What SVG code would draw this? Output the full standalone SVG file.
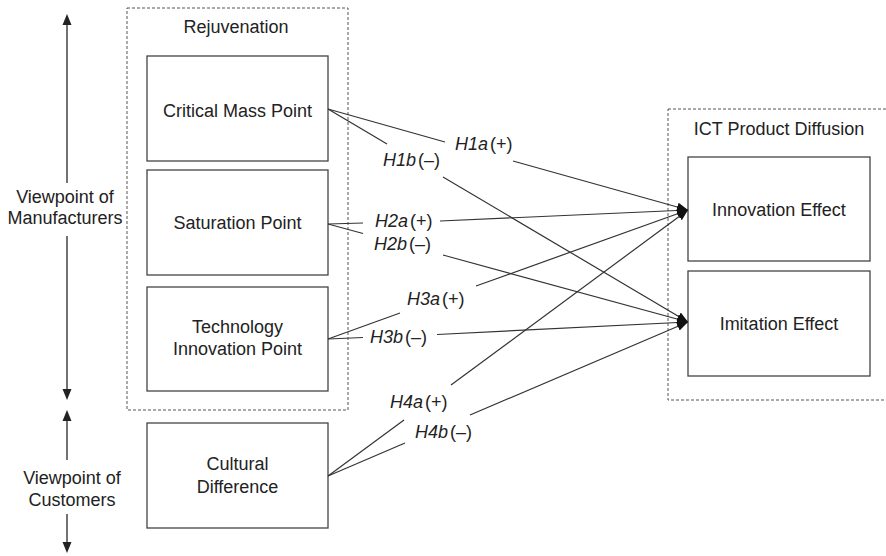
<svg xmlns="http://www.w3.org/2000/svg" width="886" height="556" viewBox="0 0 886 556">
<defs>
<style>
.t{font-family:"Liberation Sans",Arial,sans-serif;font-size:18px;fill:#222;text-anchor:middle}
.h{font-family:"Liberation Sans",Arial,sans-serif;font-size:18px;fill:#222}
.h .i{font-style:italic}
.box{fill:#fff;stroke:#444;stroke-width:1.3}
.grp{fill:none;stroke:#555;stroke-width:1;stroke-dasharray:3,2}
.ln{stroke:#333;stroke-width:1.2;fill:none}
.ax{stroke:#444;stroke-width:1.5;fill:none}
</style>
<marker id="ah" markerUnits="userSpaceOnUse" markerWidth="12" markerHeight="12" viewBox="0 0 12 12" refX="11" refY="6" orient="auto">
<path d="M0,1.5 L11,6 L0,10.5 Z" fill="#111"/>
</marker>
<marker id="ax" markerUnits="userSpaceOnUse" markerWidth="10" markerHeight="12" viewBox="0 0 10 12" refX="5" refY="11" orient="auto-start-reverse">
</marker>
</defs>
<rect width="886" height="556" fill="#fff"/>

<g id="axes">
<line class="ax" x1="67" y1="183" x2="67" y2="24"/>
<path d="M67,14 L62.5,25 L71.5,25 Z" fill="#222"/>
<line class="ax" x1="67" y1="236" x2="67" y2="390"/>
<path d="M67,400 L62.5,389 L71.5,389 Z" fill="#222"/>
<line class="ax" x1="67" y1="460" x2="67" y2="420"/>
<path d="M67,410 L62.5,421 L71.5,421 Z" fill="#222"/>
<line class="ax" x1="67" y1="514" x2="67" y2="543"/>
<path d="M67,553 L62.5,542 L71.5,542 Z" fill="#222"/>
<text class="t" x="65" y="203">Viewpoint of</text>
<text class="t" x="65" y="224">Manufacturers</text>
<text class="t" x="72" y="484">Viewpoint of</text>
<text class="t" x="72" y="506">Customers</text>
</g>

<g id="rejuvenation">
<rect class="grp" x="127" y="8" width="221" height="402"/>
<text class="t" x="236" y="33">Rejuvenation</text>
</g>

<g id="critical-mass">
<rect class="box" x="147" y="56" width="181" height="105"/>
<text class="t" x="237.5" y="117">Critical Mass Point</text>
</g>

<g id="saturation">
<rect class="box" x="147" y="170" width="181" height="105"/>
<text class="t" x="237.5" y="229">Saturation Point</text>
</g>

<g id="technology">
<rect class="box" x="147" y="287" width="181" height="104"/>
<text class="t" x="237.5" y="333">Technology</text>
<text class="t" x="237.5" y="355">Innovation Point</text>
</g>

<g id="cultural">
<rect class="box" x="147" y="423" width="181" height="105"/>
<text class="t" x="237.5" y="470">Cultural</text>
<text class="t" x="237.5" y="493">Difference</text>
</g>

<g id="ict">
<rect class="grp" x="668" y="109" width="230" height="291"/>
<text class="t" x="779" y="135">ICT Product Diffusion</text>
</g>

<g id="innovation">
<rect class="box" x="688" y="157" width="182" height="104"/>
<text class="t" x="779" y="216">Innovation Effect</text>
</g>

<g id="imitation">
<rect class="box" x="688" y="271" width="182" height="105"/>
<text class="t" x="779" y="330">Imitation Effect</text>
</g>

<g id="connectors">
<line class="ln" x1="328" y1="109" x2="445" y2="142"/>
<line class="ln" x1="513" y1="161" x2="688" y2="210" marker-end="url(#ah)"/>
<line class="ln" x1="328" y1="109" x2="387" y2="144"/>
<line class="ln" x1="443" y1="177" x2="688" y2="322" marker-end="url(#ah)"/>
<line class="ln" x1="328" y1="224" x2="363" y2="223"/>
<line class="ln" x1="440" y1="221" x2="688" y2="210" marker-end="url(#ah)"/>
<line class="ln" x1="328" y1="224" x2="363" y2="233.5"/>
<line class="ln" x1="443" y1="255" x2="688" y2="322" marker-end="url(#ah)"/>
<line class="ln" x1="328" y1="339" x2="400" y2="313"/>
<line class="ln" x1="476" y1="286" x2="688" y2="210" marker-end="url(#ah)"/>
<line class="ln" x1="328" y1="339" x2="363" y2="337.5"/>
<line class="ln" x1="437" y1="334.5" x2="688" y2="322" marker-end="url(#ah)"/>
<line class="ln" x1="328" y1="476" x2="404" y2="420"/>
<line class="ln" x1="451" y1="385" x2="688" y2="210" marker-end="url(#ah)"/>
<line class="ln" x1="328" y1="476" x2="405" y2="443"/>
<line class="ln" x1="470" y1="415" x2="688" y2="322" marker-end="url(#ah)"/>
</g>

<g id="labels">
<text class="h" x="455" y="150"><tspan class="i">H1a</tspan><tspan dx="2">(+)</tspan></text>
<text class="h" x="383" y="166"><tspan class="i">H1b</tspan><tspan dx="2">(–)</tspan></text>
<text class="h" x="375" y="227"><tspan class="i">H2a</tspan><tspan dx="2">(+)</tspan></text>
<text class="h" x="374" y="250"><tspan class="i">H2b</tspan><tspan dx="2">(–)</tspan></text>
<text class="h" x="407" y="305"><tspan class="i">H3a</tspan><tspan dx="2">(+)</tspan></text>
<text class="h" x="370" y="343"><tspan class="i">H3b</tspan><tspan dx="2">(–)</tspan></text>
<text class="h" x="390" y="408"><tspan class="i">H4a</tspan><tspan dx="2">(+)</tspan></text>
<text class="h" x="415" y="438"><tspan class="i">H4b</tspan><tspan dx="2">(–)</tspan></text>
</g>
</svg>
